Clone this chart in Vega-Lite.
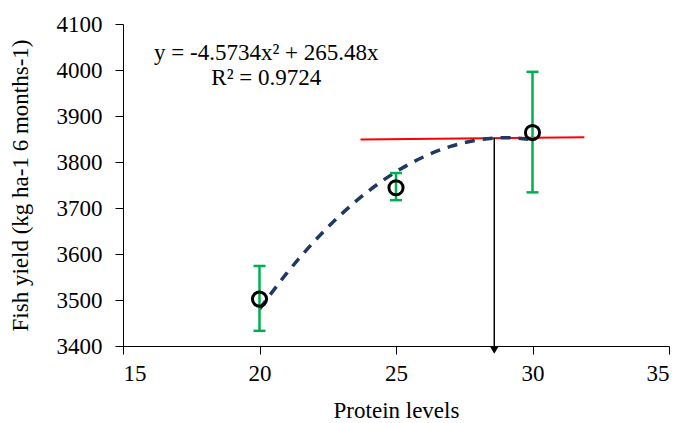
{
  "$schema": "https://vega.github.io/schema/vega-lite/v6.json",
  "width": 546,
  "height": 322,
  "autosize": {"type": "none"},
  "padding": {"left": 123, "top": 24, "right": 14, "bottom": 77},
  "background": "white",
  "config": {
    "view": {"stroke": null},
    "font": "Liberation Serif",
    "axis": {
      "grid": false,
      "domainColor": "black",
      "domainWidth": 1,
      "tickColor": "black",
      "tickSize": 8,
      "labelFont": "Liberation Serif",
      "labelFontSize": 23,
      "labelColor": "black",
      "titleFont": "Liberation Serif",
      "titleFontSize": 23,
      "titleFontWeight": "normal",
      "titleColor": "black"
    }
  },
  "datasets": {
    "means": [
      {"protein": 20, "yield": 3502, "lo": 3433, "hi": 3574},
      {"protein": 25, "yield": 3744, "lo": 3717, "hi": 3776},
      {"protein": 30, "yield": 3864, "lo": 3734, "hi": 3996}
    ],
    "curve": [
      {"protein": 20, "yield": 3480.24},
      {"protein": 21, "yield": 3558.21},
      {"protein": 22, "yield": 3627.03},
      {"protein": 23, "yield": 3686.71},
      {"protein": 24, "yield": 3737.24},
      {"protein": 25, "yield": 3778.62},
      {"protein": 26, "yield": 3810.86},
      {"protein": 27, "yield": 3833.95},
      {"protein": 28, "yield": 3847.89},
      {"protein": 29, "yield": 3852.69},
      {"protein": 30, "yield": 3848.34}
    ],
    "plateau": [
      {"protein": 23.7, "yield": 3849},
      {"protein": 31.9, "yield": 3854}
    ],
    "arrow": [
      {"protein": 28.6, "yield": 3852, "yield2": 3400}
    ],
    "labels": [
      {"protein": 20.25, "yield": 4038, "label": "y = -4.5734x² + 265.48x"},
      {"protein": 20.25, "yield": 3983, "label": "R² = 0.9724"}
    ]
  },
  "encoding": {
    "x": {
      "field": "protein", "type": "quantitative",
      "scale": {"domain": [15, 35], "nice": false, "zero": false},
      "axis": {"values": [15, 20, 25, 30, 35], "format": "d", "title": "Protein levels", "labelPadding": 8, "titlePadding": 14}
    },
    "y": {
      "field": "yield", "type": "quantitative",
      "scale": {"domain": [3400, 4100], "nice": false, "zero": false},
      "axis": {"values": [3400, 3500, 3600, 3700, 3800, 3900, 4000, 4100], "format": "d", "title": "Fish yield (kg ha-1 6 months-1)", "labelPadding": 13, "titlePadding": 24}
    }
  },
  "layer": [
    {
      "data": {"name": "plateau"},
      "mark": {"type": "line", "color": "#FF0000", "strokeWidth": 2},
      "encoding": {}
    },
    {
      "data": {"name": "arrow"},
      "mark": {"type": "rule", "color": "black", "strokeWidth": 1.5},
      "encoding": {"y2": {"field": "yield2"}}
    },
    {
      "data": {"name": "arrow"},
      "mark": {"type": "point", "shape": "triangle-down", "filled": true, "color": "black", "size": 80, "yOffset": 4, "opacity": 1},
      "encoding": {"y": {"field": "yield2", "type": "quantitative"}}
    },
    {
      "data": {"name": "curve"},
      "mark": {"type": "line", "color": "#1F3864", "strokeWidth": 3.5, "strokeDash": [10, 8], "interpolate": "monotone"},
      "encoding": {}
    },
    {
      "data": {"name": "means"},
      "mark": {"type": "rule", "color": "#00B050", "strokeWidth": 2.5},
      "encoding": {"y": {"field": "lo", "type": "quantitative"}, "y2": {"field": "hi"}}
    },
    {
      "data": {"name": "means"},
      "mark": {"type": "tick", "orient": "horizontal", "color": "#00B050", "size": 12, "thickness": 2.5, "opacity": 1},
      "encoding": {"y": {"field": "lo", "type": "quantitative"}}
    },
    {
      "data": {"name": "means"},
      "mark": {"type": "tick", "orient": "horizontal", "color": "#00B050", "size": 12, "thickness": 2.5, "opacity": 1},
      "encoding": {"y": {"field": "hi", "type": "quantitative"}}
    },
    {
      "data": {"name": "means"},
      "mark": {"type": "point", "shape": "circle", "filled": false, "color": "black", "strokeWidth": 3, "size": 200, "opacity": 1},
      "encoding": {}
    },
    {
      "data": {"name": "labels"},
      "mark": {"type": "text", "font": "Liberation Serif", "fontSize": 23, "color": "black", "align": "center", "baseline": "middle"},
      "encoding": {"text": {"field": "label"}}
    }
  ]
}
